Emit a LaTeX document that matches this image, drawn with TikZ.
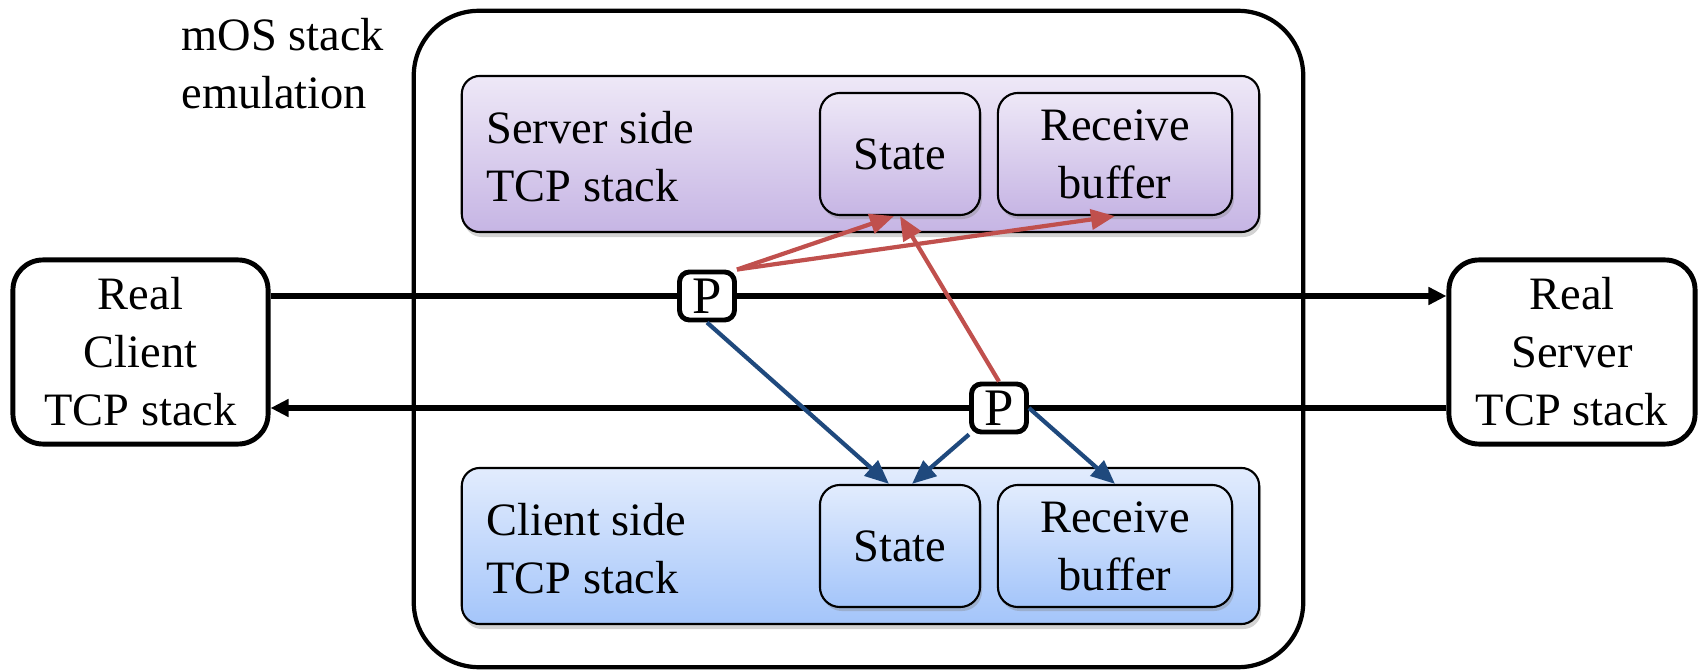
\documentclass[tikz,border=0pt]{standalone}
\usepackage{fontspec}
\setmainfont{Liberation Serif}
\usetikzlibrary{arrows.meta,shadows}

\definecolor{srvtop}{RGB}{238,232,247}
\definecolor{srvbot}{RGB}{198,181,228}
\definecolor{clitop}{RGB}{226,236,253}
\definecolor{clibot}{RGB}{164,197,250}
\definecolor{pktred}{RGB}{192,80,77}
\definecolor{pktblue}{RGB}{31,73,125}

\begin{document}
\begin{tikzpicture}[x=0.01cm, y=-0.01cm,
	every node/.style={font=\fontsize{13.2}{16.5}\selectfont, align=center},
	host/.style={draw, line width=1.4pt, rounded corners=0.3cm, minimum height=1.84cm, inner sep=0},
	panel/.style={draw, line width=0.6pt, rounded corners=0.18cm, minimum width=7.97cm, minimum height=1.56cm,
		drop shadow={shadow xshift=0.02cm, shadow yshift=-0.05cm, opacity=0.35}},
	part/.style={draw, line width=0.6pt, rounded corners=0.2cm, minimum height=1.22cm, inner sep=0,
		drop shadow={shadow xshift=0.02cm, shadow yshift=-0.04cm, opacity=0.35}},
	pkt/.style={draw, fill=white, line width=1.4pt, rounded corners=0.1cm, minimum width=0.55cm, minimum height=0.48cm, inner sep=0,
		font=\fontsize{15}{16}\selectfont},
	flow/.style={line width=1.6pt, -{Triangle[length=0.18cm, width=0.17cm]}},
	upd/.style={line width=1.2pt, -{Triangle[length=0.24cm, width=0.2cm]}}]
	\useasboundingbox (0,0) rectangle (1708,670);
	% emulation box
	\node[draw, line width=1.2pt, rounded corners=0.65cm, minimum width=8.89cm, minimum height=6.56cm] (emu) at (858.5,339) {};
	\node[anchor=west, align=left] (emulabel) at (169,64) {mOS stack\\emulation};
	% server side stack
	\node[panel, top color=srvtop, bottom color=srvbot] (spanel) at (860.5,154) {};
	\node[anchor=west, align=left] (slabel) at (474,157) {Server side\\TCP stack};
	\node[part, top color=srvtop, bottom color=srvbot, minimum width=1.6cm] (sstate) at (900,154) {State};
	\node[part, top color=srvtop, bottom color=srvbot, minimum width=2.34cm] (sbuf) at (1115,154) {Receive\\buffer};
	% client side stack
	\node[panel, top color=clitop, bottom color=clibot] (cpanel) at (860.5,546) {};
	\node[anchor=west, align=left] (clabel) at (474,549) {Client side\\TCP stack};
	\node[part, top color=clitop, bottom color=clibot, minimum width=1.6cm] (cstate) at (900,546) {State};
	\node[part, top color=clitop, bottom color=clibot, minimum width=2.34cm] (cbuf) at (1115,546) {Receive\\buffer};
	% real hosts
	\node[host, minimum width=2.55cm] (client) at (140.5,352) {Real\\Client\\TCP stack};
	\node[host, minimum width=2.46cm] (server) at (1572,352) {Real\\Server\\TCP stack};
	% packets
	\coordinate (p1pos) at (707,296);
	\coordinate (p2pos) at (999,408);
	\draw[flow] (client.east |- p1pos) -- (server.west |- p1pos);
	\draw[flow] (server.west |- p2pos) -- (client.east |- p2pos);
	\node[pkt] (p1) at (p1pos) {P};
	\node[pkt] (p2) at (p2pos) {P};
	% updates
	\draw[upd, pktred] (p1.north east) -- ([xshift=-0.06cm]sstate.south);
	\draw[upd, pktred] (p1.north east) -- (sbuf.south);
	\draw[upd, pktred] (p2.north) -- (sstate.south);
	\draw[upd, pktblue] (p1.south) -- ([xshift=-0.11cm]cstate.north);
	\draw[upd, pktblue] (p2.south west) -- ([xshift=0.12cm]cstate.north);
	\draw[upd, pktblue] (p2.east) -- (cbuf.north);
\end{tikzpicture}
\end{document}
